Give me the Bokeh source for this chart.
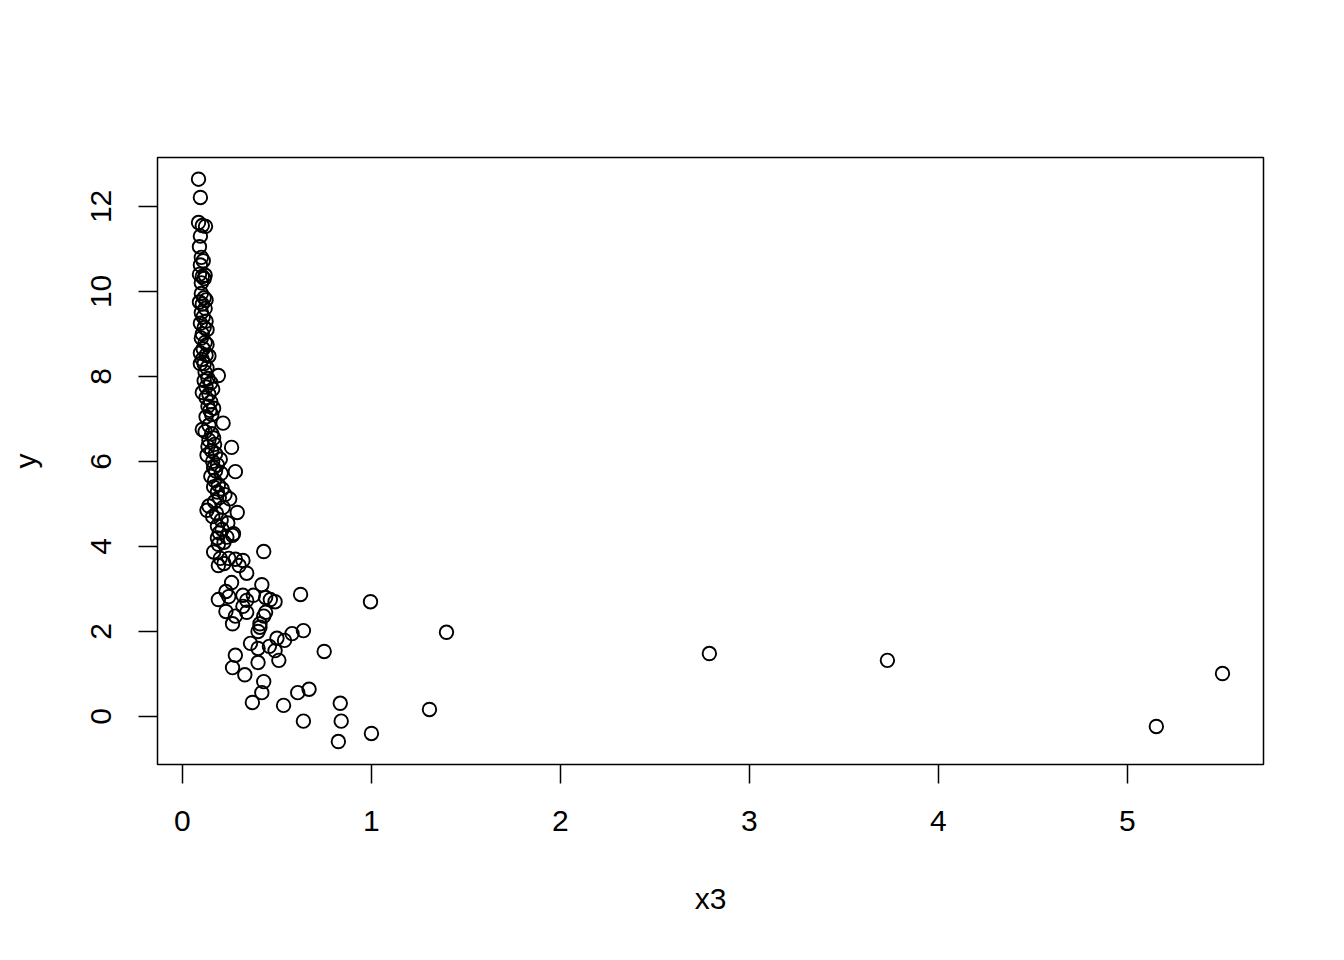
from bokeh.plotting import figure
from bokeh.models import Range1d, FixedTicker, ColumnDataSource
from bokeh.embed import file_html
from bokeh.resources import INLINE

# Data (x3, y)
x3 = [
    0.085, 0.095, 0.085, 0.122, 0.105, 0.095, 0.09, 0.10, 0.11, 0.095, 0.09, 0.105, 0.115, 0.12, 0.10,
    0.10, 0.115, 0.125, 0.09, 0.105, 0.12, 0.10, 0.11, 0.125, 0.095, 0.115, 0.13, 0.105,
    0.10, 0.12, 0.13, 0.11, 0.095, 0.125, 0.14, 0.105, 0.115, 0.095, 0.13, 0.12,
    0.19, 0.135, 0.115, 0.15, 0.125, 0.16, 0.105, 0.14, 0.125, 0.15, 0.135, 0.165, 0.145, 0.155, 0.125,
    0.215, 0.14, 0.105, 0.12, 0.155, 0.165, 0.14, 0.17, 0.135, 0.26, 0.155, 0.13, 0.175, 0.20, 0.16,
    0.185, 0.165, 0.175, 0.28, 0.205, 0.15, 0.17, 0.19, 0.165, 0.21, 0.185, 0.225, 0.195, 0.25, 0.17,
    0.14, 0.13, 0.215, 0.29, 0.18, 0.16, 0.205, 0.24, 0.185, 0.21, 0.27, 0.195, 0.235, 0.265, 0.185, 0.22, 0.19,
    0.165, 0.43, 0.20, 0.245, 0.28, 0.32, 0.22, 0.19, 0.30, 0.34,
    0.26, 0.42, 0.23, 0.625, 0.375, 0.32, 0.245, 0.44, 0.465, 0.19, 0.34, 0.49, 0.995, 0.32, 0.23,
    0.44, 0.34, 0.28, 0.43, 0.41, 0.265, 0.41, 0.64, 0.40, 1.397, 0.58,
    0.50, 0.54, 0.36, 0.46, 0.40, 0.49, 0.75, 2.788, 0.28, 3.73, 0.51, 0.40, 0.265, 5.503, 0.33,
    0.43, 0.67, 0.42, 0.61, 0.37, 0.835, 0.535, 1.307,
    0.64, 0.84, 5.153, 1.0, 0.825,
]
y = [
    12.64, 12.21, 11.62, 11.53, 11.55, 11.30, 11.05, 10.80, 10.72, 10.62, 10.40, 10.35, 10.30, 10.38, 10.20,
    9.95, 9.85, 9.80, 9.75, 9.70, 9.60, 9.50, 9.40, 9.30, 9.25, 9.15, 9.10, 9.00,
    8.90, 8.80, 8.75, 8.65, 8.55, 8.50, 8.48, 8.40, 8.30, 8.30, 8.20, 8.10,
    8.02, 7.95, 7.90, 7.85, 7.75, 7.70, 7.62, 7.58, 7.50, 7.40, 7.30, 7.25, 7.20, 7.10, 7.05,
    6.90, 6.85, 6.75, 6.70, 6.65, 6.55, 6.50, 6.40, 6.35, 6.33, 6.25, 6.15, 6.18, 6.05, 6.00,
    5.92, 5.85, 5.78, 5.76, 5.72, 5.65, 5.55, 5.45, 5.40, 5.35, 5.28, 5.22, 5.15, 5.12, 5.05,
    4.95, 4.85, 4.92, 4.80, 4.78, 4.70, 4.62, 4.55, 4.48, 4.40, 4.30, 4.32, 4.22, 4.26, 4.20, 4.10, 4.05,
    3.87, 3.88, 3.72, 3.72, 3.70, 3.67, 3.60, 3.55, 3.55, 3.37,
    3.15, 3.10, 2.94, 2.87, 2.85, 2.85, 2.82, 2.80, 2.75, 2.75, 2.73, 2.70, 2.70, 2.59, 2.47,
    2.45, 2.45, 2.36, 2.36, 2.18, 2.18, 2.10, 2.02, 2.00, 1.98, 1.95,
    1.84, 1.79, 1.72, 1.65, 1.60, 1.55, 1.53, 1.48, 1.44, 1.32, 1.32, 1.27, 1.15, 1.01, 0.98,
    0.82, 0.64, 0.56, 0.56, 0.33, 0.31, 0.26, 0.165,
    -0.11, -0.11, -0.235, -0.40, -0.59,
]

x_ticks = [0, 1, 2, 3, 4, 5]
y_ticks = [0, 2, 4, 6, 8, 10, 12]

FONT = "Liberation Sans"
FS = "30px"

p = figure(
    width=1344, height=960,
    x_range=Range1d(-0.132, 5.72), y_range=Range1d(-1.13, 13.15),
    output_backend="svg", toolbar_location=None,
    min_border_left=157, min_border_right=81, min_border_top=157, min_border_bottom=196,
    x_axis_label="x3", y_axis_label="y",
)
p.grid.visible = False
p.background_fill_color = "white"
p.border_fill_color = "white"
p.outline_line_color = "black"
p.outline_line_width = 1.5

src = ColumnDataSource(dict(x=x3, y=y))
p.scatter("x", "y", source=src, marker="circle", size=13.5,
          fill_color=None, line_color="black", line_width=1.9)

for ax, ticks in ((p.xaxis[0], x_ticks), (p.yaxis[0], y_ticks)):
    ax.ticker = FixedTicker(ticks=ticks)
    ax.axis_line_color = None
    ax.major_tick_in = 0
    ax.major_tick_out = 19
    ax.major_tick_line_color = "black"
    ax.major_tick_line_width = 1.5
    ax.minor_tick_line_color = None
    ax.major_label_text_font = FONT
    ax.major_label_text_font_size = FS
    ax.major_label_text_color = "black"
    ax.axis_label_text_font = FONT
    ax.axis_label_text_font_size = FS
    ax.axis_label_text_font_style = "normal"
    ax.axis_label_text_color = "black"

p.xaxis[0].major_label_standoff = 27
p.xaxis[0].axis_label_standoff = 48
p.yaxis[0].major_label_orientation = "vertical"
p.yaxis[0].major_label_standoff = 27
p.yaxis[0].axis_label_standoff = 47

open("out.html", "w").write(file_html(p, INLINE))
